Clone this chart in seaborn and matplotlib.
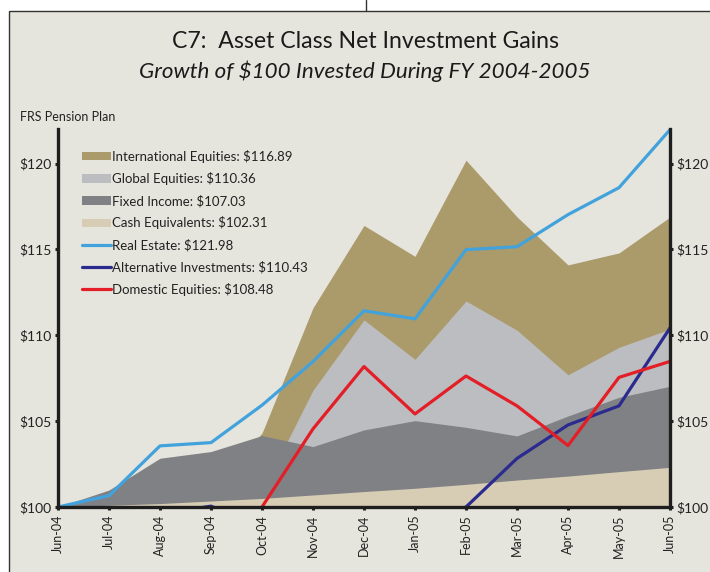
import numpy as np
import pandas as pd
import seaborn as sns
import matplotlib.pyplot as plt
from matplotlib.patches import Rectangle, Patch
from matplotlib.lines import Line2D

months = ['Jun-04', 'Jul-04', 'Aug-04', 'Sep-04', 'Oct-04', 'Nov-04', 'Dec-04',
          'Jan-05', 'Feb-05', 'Mar-05', 'Apr-05', 'May-05', 'Jun-05']

# areas (each filled from $100 up to its value, drawn back to front)
intl_equities = [100, 100.6, 101.4, 101.2, 104.3, 111.6, 116.4, 114.6, 120.2, 116.9, 114.1, 114.8, 116.89]
global_equities = [100, 100.3, 100.5, 99.8, 100.9, 106.8, 110.9, 108.6, 112.0, 110.3, 107.7, 109.3, 110.36]
fixed_income = [100, 100.99, 102.84, 103.23, 104.16, 103.52, 104.49, 105.03, 104.64, 104.14, 105.3, 106.39, 107.03]
cash_equiv = [100, 100.1, 100.2, 100.35, 100.5, 100.7, 100.9, 101.09, 101.32, 101.57, 101.8, 102.06, 102.31]

# lines
real_estate = [100, 100.66, 103.56, 103.75, 105.93, 108.47, 111.43, 110.96, 114.99, 115.16, 117.03, 118.6, 121.98]
alternative = [100, 99.2, 99.6, 100.05, 98.8, 98.3, 98.5, 98.9, 100.0, 102.83, 104.78, 105.89, 110.43]
domestic_equities = [100, 96.8, 96.9, 97.8, 100.0, 104.55, 108.18, 105.42, 107.63, 105.89, 103.58, 107.55, 108.48]

area_labels = ['International Equities: $116.89', 'Global Equities: $110.36',
               'Fixed Income: $107.03', 'Cash Equivalents: $102.31']
line_labels = ['Real Estate: $121.98', 'Alternative Investments: $110.43',
               'Domestic Equities: $108.48']
area_colors = ['#ab9a6a', '#bcbdc1', '#808185', '#d7cdb4']
line_colors = ['#42a2dc', '#2b2b8f', '#e31e26']

bg = '#e6e5dd'
sns.set_theme(style='ticks')
plt.rcParams['font.family'] = ['Lato', 'DejaVu Sans']

df = pd.DataFrame({'x': np.arange(len(months)), 'month': months,
                   'intl': intl_equities, 'glob': global_equities,
                   'fixed': fixed_income, 'cash': cash_equiv,
                   'real': real_estate, 'alt': alternative, 'dom': domestic_equities})

fig = plt.figure(figsize=(7.1, 5.72), dpi=100, facecolor='white')
fig.patches.append(Rectangle((8.5 / 710, -0.01), 1.2, (572 - 11) / 572 + 0.01,
                             transform=fig.transFigure, facecolor=bg,
                             edgecolor='#333333', lw=1.0, zorder=-10))
fig.lines.append(Line2D([365.5 / 710, 365.5 / 710], [(572 - 11) / 572, 1],
                        transform=fig.transFigure, color='#333333', lw=1.0, zorder=-10))

ax = fig.add_axes([58 / 710, 65 / 572, 612 / 710, 377.7 / 572])
ax.set_facecolor(bg)

for col, c in zip(['intl', 'glob', 'fixed', 'cash'], area_colors):
    ax.fill_between(df['x'], 100, df[col], color=c, lw=0)

for col, c in zip(['real', 'alt', 'dom'], line_colors):
    sns.lineplot(data=df, x='x', y=col, color=c, lw=2.3, ax=ax)

ax.set_xlim(0, 12)
ax.set_ylim(100, 122)
ax.set_xticks(df['x'], months, rotation=90)
ax.set_yticks([100, 105, 110, 115, 120], ['$100', '$105', '$110', '$115', '$120'])
ax.set_xlabel('')
ax.set_ylabel('')
for s in ['left', 'bottom', 'right']:
    ax.spines[s].set_linewidth(2.4)
    ax.spines[s].set_color('#1e1e1e')
    ax.spines[s].set_zorder(5)
ax.spines['top'].set_visible(False)
ax.tick_params(axis='both', length=2.5, width=2.2, color='#1e1e1e',
               labelsize=10, labelcolor='#222222', pad=2)
ax.tick_params(axis='x', labelsize=9, pad=3)
ax.tick_params(axis='y', right=True, labelright=True)

handles = [Patch(facecolor=c, edgecolor='none') for c in area_colors] + \
          [Line2D([], [], color=c, lw=2.3) for c in line_colors]
ax.legend(handles, area_labels + line_labels, loc='upper left',
          bbox_to_anchor=(0.019, 0.977), frameon=False, fontsize=9.5,
          handlelength=2.2, handleheight=0.6, handletextpad=0.12,
          labelspacing=0.71, labelcolor='#222222')

fig.text(365 / 710, 1 - 42 / 572, 'C7:  Asset Class Net Investment Gains',
         ha='center', va='center', fontsize=16.6, color='#1a1a1a')
fig.text(365 / 710, 1 - 71 / 572, 'Growth of $100 Invested During FY 2004-2005',
         ha='center', va='center', fontsize=16.1, style='italic', color='#1a1a1a')
fig.text(20 / 710, 1 - 117 / 572, 'FRS Pension Plan', ha='left', va='center',
         fontsize=9, color='#222222')

fig.savefig('out.png', dpi=100, facecolor='white')
